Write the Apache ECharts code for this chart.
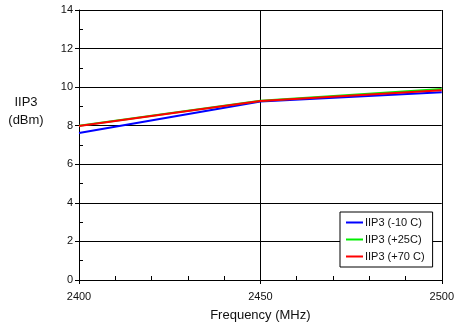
<!DOCTYPE html>
<html>
<head>
<meta charset="utf-8">
<script src="https://cdn.jsdelivr.net/npm/echarts@6/dist/echarts.min.js"></script>
<style>
  html, body { margin: 0; padding: 0; background: #fff; }
  #chart { width: 457px; height: 327px; }
</style>
</head>
<body>
<div id="chart"></div>
<script>
// frequency points (MHz)
const freqs = [2400, 2450, 2500]
// IIP3 in dBm per temperature
const iip3Cold = [7.62, 9.25, 9.73]
const iip3Room = [8.0, 9.3, 9.9]
const iip3Hot = [7.98, 9.28, 9.84]
const seriesNames = ['IIP3 (-10 C)', 'IIP3 (+25C)', 'IIP3 (+70 C)']
const seriesColors = ['#0000ff', '#00ee00', '#ff0000']

const font = 'Liberation Sans, Arial, sans-serif'

function pairs(ys) {
  return freqs.map((f, i) => [f, ys[i]])
}

const myChart = echarts.init(document.getElementById('chart'))

const option = {
  animation: false,
  textStyle: { fontFamily: font },
  grid: { left: 79, right: 13, top: 10, bottom: 47 },
  graphic: [
    {
      type: 'text',
      x: 26,
      y: 93,
      style: {
        text: 'IIP3\n(dBm)',
        fontFamily: font,
        fontSize: 13,
        lineHeight: 18,
        align: 'center',
        fill: '#111'
      }
    }
  ],
  legend: {
    orient: 'vertical',
    left: 340,
    top: 212,
    padding: [5, 8, 5, 6],
    itemGap: 6,
    itemWidth: 17,
    itemHeight: 2,
    icon: 'rect',
    borderColor: '#000',
    borderWidth: 1,
    backgroundColor: '#fff',
    textStyle: { fontFamily: font, fontSize: 11, color: '#111', padding: [0, 0, 0, -3] },
    data: seriesNames
  },
  xAxis: [
    {
      type: 'value',
      min: 2400,
      max: 2500,
      interval: 50,
      name: 'Frequency (MHz)',
      nameLocation: 'middle',
      nameGap: 29,
      nameTextStyle: { fontFamily: font, fontSize: 13, color: '#111' },
      axisLine: { show: true, lineStyle: { color: '#000', width: 1 } },
      axisTick: { show: true, length: 4, lineStyle: { color: '#000' } },
      axisLabel: { color: '#111', fontSize: 11, margin: 11, fontFamily: font, formatter: v => String(v) },
      splitLine: { show: true, lineStyle: { color: '#000', width: 1 } }
    },
    {
      type: 'value',
      min: 2400,
      max: 2500,
      interval: 50,
      position: 'bottom',
      axisLine: { show: false },
      axisTick: { show: false, inside: true },
      minorTick: { show: true, splitNumber: 5, length: 4, lineStyle: { color: '#000' } },
      axisLabel: { show: false },
      splitLine: { show: false }
    }
  ],
  yAxis: [
    {
      type: 'value',
      min: 0,
      max: 14,
      interval: 2,
      axisLine: { show: true, lineStyle: { color: '#000', width: 1 } },
      axisTick: { show: true, length: 4, lineStyle: { color: '#000' } },
      axisLabel: { color: '#111', fontSize: 11, margin: 6, fontFamily: font },
      splitLine: { show: true, lineStyle: { color: '#000', width: 1 } }
    },
    {
      type: 'value',
      min: 0,
      max: 14,
      interval: 2,
      position: 'left',
      axisLine: { show: false },
      axisTick: { show: false, inside: true },
      minorTick: { show: true, splitNumber: 2, length: 4, lineStyle: { color: '#000' } },
      axisLabel: { show: false },
      splitLine: { show: false }
    }
  ],
  series: [
    {
      name: seriesNames[0],
      type: 'line',
      data: pairs(iip3Cold),
      symbol: 'none',
      color: seriesColors[0],
      lineStyle: { width: 2 }
    },
    {
      name: seriesNames[1],
      type: 'line',
      data: pairs(iip3Room),
      symbol: 'none',
      color: seriesColors[1],
      lineStyle: { width: 2 }
    },
    {
      name: seriesNames[2],
      type: 'line',
      data: pairs(iip3Hot),
      symbol: 'none',
      color: seriesColors[2],
      lineStyle: { width: 2 }
    }
  ]
}

myChart.setOption(option)
</script>
</body>
</html>
